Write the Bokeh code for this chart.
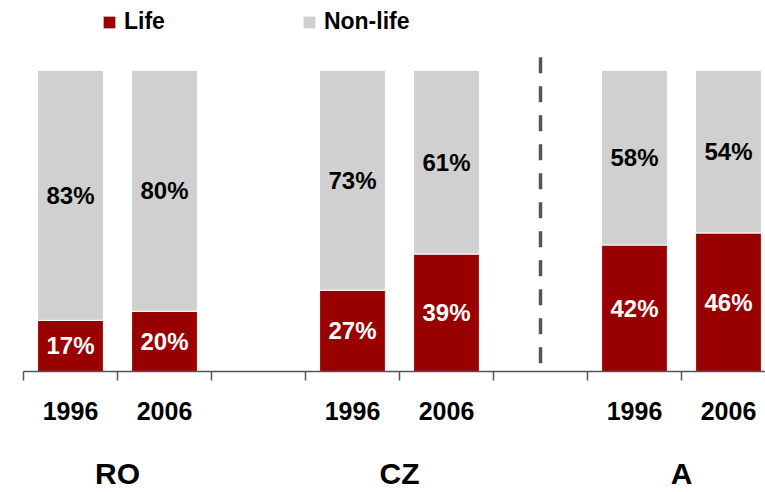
from bokeh.plotting import figure
from bokeh.models import (ColumnDataSource, Range1d, FixedTicker, LinearAxis,
                          Legend, LegendItem)
from bokeh.core.properties import value
from bokeh.embed import file_html
from bokeh.resources import INLINE

# ---- data ----
countries = ["RO", "CZ", "A"]
years = ["1996", "2006"]
life = [17, 20, 27, 39, 42, 46]
nonlife = [83, 80, 73, 61, 58, 54]
separator_after = ["CZ"]

LIFE_COLOR = "#990000"
NONLIFE_COLOR = "#D0D0D0"
FONT = "Liberation Sans"

# slot layout: each country has len(years) bars + one empty slot
slots_per_group = len(years) + 1
xs, labels_year = [], []
for gi, c in enumerate(countries):
    for yi, yr in enumerate(years):
        xs.append(gi * slots_per_group + yi + 0.5)
        labels_year.append(yr)
group_centers = [gi * slots_per_group + len(years) / 2 for gi in range(len(countries))]
n_slots = len(countries) * slots_per_group - 1
sep_x = [(countries.index(c) + 1) * slots_per_group - 0.5 for c in separator_after]

life_frac = [v / 100 for v in life]
nonlife_frac = [v / 100 for v in nonlife]
src = ColumnDataSource(dict(
    x=xs, life=life_frac, nonlife=nonlife_frac,
    life_y=[l / 2 for l in life_frac],
    nonlife_y=[l + n / 2 for l, n in zip(life_frac, nonlife_frac)],
    life_txt=[f"{v}%" for v in life],
    nonlife_txt=[f"{v}%" for v in nonlife],
))

p = figure(width=765, height=492, output_backend="svg", toolbar_location=None,
           x_range=Range1d(0, 742 / 94), y_range=Range1d(0, 1 + 70 / 302),
           min_border_left=23, min_border_right=0, min_border_top=0,
           min_border_bottom=120)
p.outline_line_color = None
p.grid.visible = False
p.yaxis.visible = False
p.background_fill_color = "white"

rs = p.vbar_stack(["life", "nonlife"], x="x", width=0.7, source=src,
                  color=[LIFE_COLOR, NONLIFE_COLOR], line_color="white",
                  line_width=1)

p.text(x="x", y="life_y", text="life_txt", source=src, text_color="white",
       text_font=value(FONT), text_font_style="bold", text_font_size="24px",
       text_align="center", text_baseline="middle")
p.text(x="x", y="nonlife_y", text="nonlife_txt", source=src, text_color="black",
       text_font=value(FONT), text_font_style="bold", text_font_size="24px",
       text_align="center", text_baseline="middle")

p.segment(x0=sep_x, x1=sep_x, y0=[1.043] * len(sep_x), y1=[-0.03] * len(sep_x),
          line_color="#555555", line_width=3.5, line_dash="16 13")

# x axis: year labels at bar centers, minor ticks at slot boundaries
xa = p.xaxis[0]
xa.ticker = FixedTicker(ticks=xs, minor_ticks=list(range(0, n_slots + 2)))
xa.major_label_overrides = {x: yr for x, yr in zip(xs, labels_year)}
xa.major_tick_line_color = None
xa.major_tick_out = 0
xa.major_tick_in = 0
xa.minor_tick_line_color = "#555555"
xa.minor_tick_line_width = 1.5
xa.minor_tick_out = 9
xa.minor_tick_in = 0
xa.axis_line_color = "#555555"
xa.axis_line_width = 1.5
xa.major_label_text_font = FONT
xa.major_label_text_font_style = "bold"
xa.major_label_text_font_size = "25px"
xa.major_label_text_color = "black"
xa.major_label_standoff = 21

ca = LinearAxis(ticker=FixedTicker(ticks=group_centers),
                major_label_overrides={g: c for g, c in zip(group_centers, countries)})
ca.axis_line_color = None
ca.major_tick_line_color = None
ca.minor_tick_line_color = None
ca.major_label_text_font = FONT
ca.major_label_text_font_style = "bold"
ca.major_label_text_font_size = "30px"
ca.major_label_text_color = "black"
ca.major_label_standoff = 28
p.add_layout(ca, "below")

legend = Legend(items=[LegendItem(label="Life", renderers=[rs[0]]),
                       LegendItem(label="Non-life", renderers=[rs[1]])],
                orientation="horizontal", location=(78, 336),
                glyph_width=16, glyph_height=16, label_standoff=7, spacing=136,
                margin=0, padding=0, border_line_color=None,
                background_fill_alpha=0, label_text_font=FONT,
                label_text_color="black",
                label_text_font_style="bold", label_text_font_size="23px")
p.add_layout(legend)

open("out.html", "w").write(file_html(p, INLINE))
